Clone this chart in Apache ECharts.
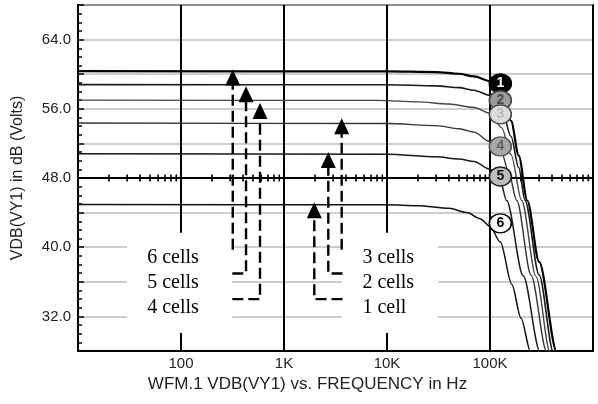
<!DOCTYPE html>
<html><head><meta charset="utf-8">
<script src="https://cdn.jsdelivr.net/npm/echarts@6/dist/echarts.min.js"></script>
<style>html,body{margin:0;padding:0;background:#fff}#c{width:598px;height:404px}</style>
</head><body><div id="c"></div>
<script>
// ---- data (frequency in Hz, gain in dB) ----
const curve1Freq = [10, 10000, 30000, 50000, 70000, 100000, 130000, 160000, 190000, 230000, 300000, 445000, 550000];
const curve1Db   = [60.35, 60.33, 60.25, 60.05, 59.75, 59.2, 57.8, 54.6, 50.6, 45.4, 38.3, 27.9, 22.0];
const curve2Freq = [10, 10000, 30000, 50000, 70000, 100000, 130000, 160000, 190000, 219000, 300000, 412000, 520000];
const curve2Db   = [58.8, 58.78, 58.65, 58.45, 58.15, 57.55, 56.0, 52.8, 49.2, 45.4, 36.8, 27.9, 21.5];
const curve3Freq = [10, 8000, 20000, 40000, 70000, 100000, 130000, 160000, 203000, 280000, 382000, 480000];
const curve3Db   = [57.0, 56.97, 56.8, 56.55, 56.15, 55.5, 53.8, 50.7, 45.4, 36.6, 27.9, 21.7];
const curve4Freq = [10, 10000, 30000, 50000, 70000, 100000, 130000, 150000, 182000, 250000, 355000, 450000];
const curve4Db   = [54.35, 54.3, 54.05, 53.7, 53.3, 52.2, 50.9, 48.9, 45.4, 36.8, 27.9, 21.8];
const curve5Freq = [10, 10000, 30000, 50000, 70000, 100000, 125000, 145000, 210000, 306000, 400000];
const curve5Db   = [50.81, 50.75, 50.45, 50.2, 49.9, 49.0, 47.8, 45.4, 36.7, 27.9, 21.7];
const curve6Freq = [10, 10000, 20000, 40000, 60000, 80000, 100000, 126000, 163000, 200000, 248000, 320000];
const curve6Db   = [44.93, 44.9, 44.8, 44.5, 44.0, 43.3, 42.4, 40.6, 35.7, 31.8, 27.9, 22.5];

const curveTags   = ['1', '2', '3', '4', '5', '6'];
const tagFreq     = [126000, 126000, 126000, 126000, 126000, 126000];
const tagDb       = [58.93, 56.99, 55.36, 51.65, 48.17, 42.76];

const arrowNames   = ['6 cells', '5 cells', '4 cells', '3 cells', '2 cells', '1 cell'];
const arrowFreq    = [318, 428, 585, 3631, 2692, 1968];
const arrowTipDb   = [60.54, 58.61, 56.67, 54.9, 51.0, 45.19];
const arrowBaseDb  = [39.71, 36.96, 34.0, 39.71, 36.96, 34.0];
const arrowEndFreq = [318, 315, 315, 3631, 3700, 3700];

const textFreq = [46.5, 46.5, 46.5, 5715, 5715, 5715];
const textDb   = [38.82, 35.92, 33.02, 38.82, 35.92, 33.02];

const boxFreqLo = [29.9, 3651];
const boxFreqHi = [313, 31300];
const boxDbLo = 30.09, boxDbHi = 41.68;

const yTickLabels = [32, 40, 48, 56, 64];
const xTickLabels = {2: '100', 3: '1K', 4: '10K', 5: '100K'};

// minor log tick positions drawn on the 48 dB axis line
const minorTickFreq = [];
for (let e = 1; e <= 5; e++) for (let k = 2; k <= 9; k++) minorTickFreq.push(k * Math.pow(10, e));

// ---- styles ----
const curveColors = ['#000', '#1a1a1a', '#444', '#333', '#1a1a1a', '#111'];
const curveWidths = [2.2, 1.6, 1.4, 1.4, 1.5, 1.5];
const tagStyles = [
  {fill: '#000', border: '#000', text: '#fff'},
  {fill: '#9c9c9c', border: '#444', text: '#4a4a4a'},
  {fill: '#dcdcdc', border: '#444', text: '#bdbdbd'},
  {fill: '#a8a8a8', border: '#555', text: '#606060'},
  {fill: '#bdbdbd', border: '#222', text: '#111'},
  {fill: '#fff', border: '#000', text: '#000'}
];

const curves = [
  [curve1Freq, curve1Db], [curve2Freq, curve2Db], [curve3Freq, curve3Db],
  [curve4Freq, curve4Db], [curve5Freq, curve5Db], [curve6Freq, curve6Db]
];

const series = [];

// white annotation boxes
series.push({
  type: 'line', data: [], z: 1, silent: true,
  markArea: {
    silent: true,
    itemStyle: {color: '#fff', opacity: 1},
    data: boxFreqLo.map((f, i) => [{coord: [f, boxDbLo]}, {coord: [boxFreqHi[i], boxDbHi]}])
  }
});

curves.forEach((c, i) => {
  series.push({
    type: 'line', name: 'c' + (i + 1), z: 2,
    data: c[0].map((f, j) => [f, c[1][j]]),
    showSymbol: false, symbol: 'none',
    smooth: 0.3, smoothMonotone: 'x',
    lineStyle: {color: curveColors[i], width: curveWidths[i]}
  });
});

// 48 dB axis line with minor log ticks
series.push({
  type: 'scatter', z: 3, silent: true,
  data: minorTickFreq.map(f => [f, 48]),
  symbol: 'rect', symbolSize: [1.6, 7],
  itemStyle: {color: '#000', opacity: 1},
  markLine: {
    silent: true, symbol: 'none', label: {show: false},
    lineStyle: {color: '#000', width: 2, type: 'solid'},
    data: [{yAxis: 48}]
  }
});

// arrows
arrowNames.forEach((n, i) => {
  series.push({
    type: 'line', z: 4, silent: true,
    data: [[arrowEndFreq[i], arrowBaseDb[i]], [arrowFreq[i], arrowBaseDb[i]], [arrowFreq[i], arrowTipDb[i] - 1.2]],
    symbol: 'none',
    lineStyle: {color: '#000', width: 2.4, type: [11, 5]}
  });
});
series.push({
  type: 'scatter', z: 5, silent: true,
  data: arrowFreq.map((f, i) => [f, arrowTipDb[i]]),
  symbol: 'triangle', symbolSize: [15, 16], symbolOffset: [0, '50%'],
  itemStyle: {color: '#000', opacity: 1}
});

// annotation text
series.push({
  type: 'scatter', z: 6, silent: true,
  data: textFreq.map((f, i) => ({value: [f, textDb[i]], name: arrowNames[i]})),
  symbolSize: 1, itemStyle: {color: 'rgba(0,0,0,0)', opacity: 1},
  label: {show: true, position: 'right', distance: 0, formatter: p => p.name, opacity: 1,
          fontFamily: 'Liberation Serif', fontSize: 20, color: '#000'}
});

// curve tags
series.push({
  type: 'scatter', z: 7, silent: true,
  data: tagFreq.map((f, i) => ({
    value: [f, tagDb[i]], name: curveTags[i],
    itemStyle: {color: tagStyles[i].fill, borderColor: tagStyles[i].border, borderWidth: 1.5, opacity: 1},
    label: {color: tagStyles[i].text}
  })),
  symbol: 'circle', symbolSize: [22, 19],
  label: {show: true, position: 'inside', formatter: p => p.name, opacity: 1,
          fontFamily: 'Liberation Sans', fontWeight: 'bold', fontSize: 14}
});

const chart = echarts.init(document.getElementById('c'), null, {renderer: 'canvas'});
chart.setOption({
  animation: false,
  backgroundColor: '#fff',
  grid: {left: 78, right: 5, top: 5, bottom: 53, show: true, borderColor: '#000', borderWidth: 2},
  xAxis: {
    type: 'log', logBase: 10, min: 10, max: 1000000,
    name: 'WFM.1 VDB(VY1) vs. FREQUENCY in Hz', nameLocation: 'middle', nameGap: 22,
    nameTextStyle: {fontFamily: 'Liberation Sans', fontSize: 17, color: '#222', padding: [0, 56, 0, 0]},
    axisLine: {show: true, lineStyle: {color: '#000', width: 2}},
    axisTick: {show: false},
    axisLabel: {margin: 5, fontFamily: 'Liberation Sans', fontSize: 15, color: '#222',
      formatter: v => xTickLabels[Math.round(Math.log10(v))] || ''},
    splitLine: {show: true, lineStyle: {color: '#000', width: 2}},
    minorTick: {show: false}
  },
  yAxis: {
    type: 'value', min: 28, max: 68, interval: 4,
    name: 'VDB(VY1) in dB (Volts)', nameLocation: 'middle', nameGap: 52,
    nameTextStyle: {fontFamily: 'Liberation Sans', fontSize: 16, color: '#222'},
    axisLine: {show: true, lineStyle: {color: '#000', width: 2}},
    axisTick: {show: true, inside: true, length: 6, lineStyle: {color: '#000', width: 1.5}},
    minorTick: {show: true, splitNumber: 4, length: 4, lineStyle: {color: '#000', width: 1.5}},
    axisLabel: {margin: 7, fontFamily: 'Liberation Sans', fontSize: 15, color: '#222',
      formatter: v => yTickLabels.indexOf(v) >= 0 ? v.toFixed(1) : ''},
    splitLine: {show: true, lineStyle: {color: '#bdbdbd', width: 1.5}}
  },
  series: series
});
</script>
</body></html>
